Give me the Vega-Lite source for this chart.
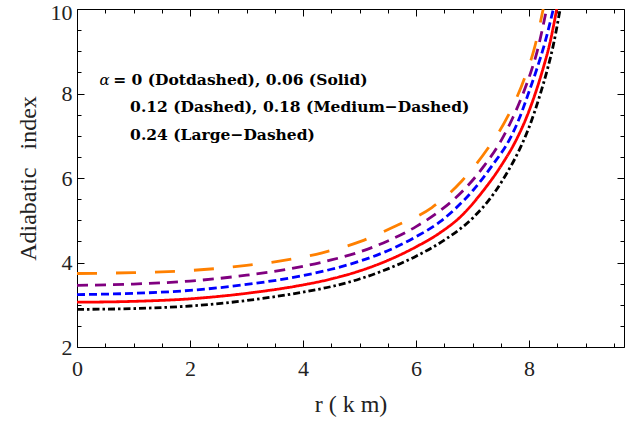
{
  "$schema": "https://vega.github.io/schema/vega-lite/v6.json",
  "width": 547,
  "height": 338,
  "autosize": {"type": "none"},
  "padding": {"left": 77, "top": 9, "right": 11, "bottom": 81},
  "background": "white",
  "config": {"view": {"stroke": null}},
  "datasets": {
    "curves": [
      {"s": "0", "r": 0, "v": 2.89}, {"s": "0", "r": 1, "v": 2.91}, {"s": "0", "r": 2, "v": 2.97}, {"s": "0", "r": 3, "v": 3.10}, {"s": "0", "r": 4, "v": 3.30}, {"s": "0", "r": 4.5, "v": 3.43}, {"s": "0", "r": 5, "v": 3.61}, {"s": "0", "r": 5.5, "v": 3.85}, {"s": "0", "r": 6, "v": 4.15}, {"s": "0", "r": 6.5, "v": 4.53}, {"s": "0", "r": 7, "v": 5.05}, {"s": "0", "r": 7.37, "v": 5.62}, {"s": "0", "r": 7.6, "v": 6.1}, {"s": "0", "r": 7.84, "v": 6.7}, {"s": "0", "r": 8.0, "v": 7.2}, {"s": "0", "r": 8.19, "v": 7.95}, {"s": "0", "r": 8.32, "v": 8.55}, {"s": "0", "r": 8.43, "v": 9.15}, {"s": "0", "r": 8.55, "v": 10},
      {"s": "0.06", "r": 0, "v": 3.06}, {"s": "0.06", "r": 1, "v": 3.08}, {"s": "0.06", "r": 2, "v": 3.14}, {"s": "0.06", "r": 3, "v": 3.27}, {"s": "0.06", "r": 4, "v": 3.47}, {"s": "0.06", "r": 4.5, "v": 3.61}, {"s": "0.06", "r": 5, "v": 3.80}, {"s": "0.06", "r": 5.5, "v": 4.05}, {"s": "0.06", "r": 6, "v": 4.37}, {"s": "0.06", "r": 6.42, "v": 4.70}, {"s": "0.06", "r": 6.8, "v": 5.10}, {"s": "0.06", "r": 7.16, "v": 5.65}, {"s": "0.06", "r": 7.5, "v": 6.28}, {"s": "0.06", "r": 7.78, "v": 6.92}, {"s": "0.06", "r": 7.95, "v": 7.42}, {"s": "0.06", "r": 8.11, "v": 8.0}, {"s": "0.06", "r": 8.25, "v": 8.6}, {"s": "0.06", "r": 8.37, "v": 9.2}, {"s": "0.06", "r": 8.49, "v": 10},
      {"s": "0.12", "r": 0, "v": 3.24}, {"s": "0.12", "r": 1, "v": 3.27}, {"s": "0.12", "r": 2, "v": 3.34}, {"s": "0.12", "r": 3, "v": 3.48}, {"s": "0.12", "r": 4, "v": 3.69}, {"s": "0.12", "r": 4.5, "v": 3.84}, {"s": "0.12", "r": 5, "v": 4.03}, {"s": "0.12", "r": 5.5, "v": 4.28}, {"s": "0.12", "r": 6, "v": 4.61}, {"s": "0.12", "r": 6.42, "v": 4.96}, {"s": "0.12", "r": 6.7, "v": 5.28}, {"s": "0.12", "r": 7.01, "v": 5.71}, {"s": "0.12", "r": 7.35, "v": 6.3}, {"s": "0.12", "r": 7.67, "v": 6.95}, {"s": "0.12", "r": 7.83, "v": 7.42}, {"s": "0.12", "r": 7.98, "v": 7.97}, {"s": "0.12", "r": 8.13, "v": 8.55}, {"s": "0.12", "r": 8.28, "v": 9.2}, {"s": "0.12", "r": 8.43, "v": 10},
      {"s": "0.18", "r": 0, "v": 3.46}, {"s": "0.18", "r": 1, "v": 3.49}, {"s": "0.18", "r": 2, "v": 3.56}, {"s": "0.18", "r": 3, "v": 3.70}, {"s": "0.18", "r": 4, "v": 3.91}, {"s": "0.18", "r": 4.5, "v": 4.06}, {"s": "0.18", "r": 5, "v": 4.25}, {"s": "0.18", "r": 5.5, "v": 4.51}, {"s": "0.18", "r": 6, "v": 4.85}, {"s": "0.18", "r": 6.42, "v": 5.22}, {"s": "0.18", "r": 6.84, "v": 5.71}, {"s": "0.18", "r": 7.2, "v": 6.28}, {"s": "0.18", "r": 7.52, "v": 6.92}, {"s": "0.18", "r": 7.72, "v": 7.45}, {"s": "0.18", "r": 7.9, "v": 8.02}, {"s": "0.18", "r": 8.03, "v": 8.5}, {"s": "0.18", "r": 8.14, "v": 8.98}, {"s": "0.18", "r": 8.31, "v": 10},
      {"s": "0.24", "r": 0, "v": 3.74}, {"s": "0.24", "r": 1, "v": 3.76}, {"s": "0.24", "r": 2, "v": 3.81}, {"s": "0.24", "r": 3, "v": 3.93}, {"s": "0.24", "r": 3.66, "v": 4.05}, {"s": "0.24", "r": 4.34, "v": 4.23}, {"s": "0.24", "r": 5.02, "v": 4.5}, {"s": "0.24", "r": 5.63, "v": 4.86}, {"s": "0.24", "r": 6.28, "v": 5.3}, {"s": "0.24", "r": 6.81, "v": 5.93}, {"s": "0.24", "r": 7.26, "v": 6.68}, {"s": "0.24", "r": 7.62, "v": 7.45}, {"s": "0.24", "r": 7.93, "v": 8.4}, {"s": "0.24", "r": 8.09, "v": 9.05}, {"s": "0.24", "r": 8.25, "v": 10}
    ]
  },
  "layer": [
    {
      "data": {"name": "curves"},
      "mark": {"type": "line", "clip": true, "strokeWidth": 2.8, "interpolate": "monotone"},
      "encoding": {
        "x": {
          "field": "r", "type": "quantitative",
          "scale": {"domain": [0, 9.68], "nice": false, "zero": false},
          "axis": {
            "orient": "bottom",
            "values": [0, 0.5, 1, 1.5, 2, 2.5, 3, 3.5, 4, 4.5, 5, 5.5, 6, 6.5, 7, 7.5, 8, 8.5, 9, 9.5],
            "labelExpr": "datum.value % 2 === 0 ? format(datum.value, 'd') : ''",
            "tickSize": {"condition": {"test": "datum.value % 2 === 0", "value": -7}, "value": -4},
            "labelPadding": 18,
            "labelFont": "Liberation Serif", "labelFontSize": 22, "labelColor": "#222",
            "labelFlush": false,
            "grid": false, "domainColor": "#000", "tickColor": "#000",
            "title": "r ( k m)", "titleFont": "Liberation Serif", "titleFontSize": 24,
            "titleFontWeight": "normal", "titleColor": "#222", "titlePadding": 13
          }
        },
        "y": {
          "field": "v", "type": "quantitative",
          "scale": {"domain": [2, 10], "nice": false, "zero": false},
          "axis": {
            "orient": "left",
            "values": [2, 2.5, 3, 3.5, 4, 4.5, 5, 5.5, 6, 6.5, 7, 7.5, 8, 8.5, 9, 9.5, 10],
            "labelExpr": "datum.value % 2 === 0 ? format(datum.value, 'd') : ''",
            "tickSize": {"condition": {"test": "datum.value % 2 === 0", "value": -7}, "value": -4},
            "labelOffset": {"condition": {"test": "datum.value === 10", "value": 3}, "value": 0},
            "labelPadding": 12,
            "labelFont": "Liberation Serif", "labelFontSize": 22, "labelColor": "#222",
            "labelFlush": false,
            "grid": false, "domainColor": "#000", "tickColor": "#000",
            "title": "Adiabatic\u00a0\u00a0 index", "titleFont": "Liberation Serif", "titleFontSize": 24,
            "titleFontWeight": "normal", "titleColor": "#222", "titlePadding": 10
          }
        },
        "color": {
          "field": "s", "type": "nominal", "legend": null,
          "scale": {"domain": ["0", "0.06", "0.12", "0.18", "0.24"], "range": ["#000000", "#FF0000", "#0000FF", "#800080", "#FF8000"]}
        },
        "strokeDash": {
          "field": "s", "type": "nominal", "legend": null,
          "scale": {"domain": ["0", "0.06", "0.12", "0.18", "0.24"], "range": [[7, 3, 2.5, 3], [1, 0], [8, 4], [11, 7], [20, 19]]}
        }
      }
    },
    {
      "data": {"values": [{"t": "α"}]},
      "mark": {"type": "text", "font": "DejaVu Serif", "fontStyle": "italic", "fontSize": 15, "align": "left", "baseline": "middle", "color": "#000"},
      "encoding": {
        "x": {"datum": 0.4, "type": "quantitative", "axis": {
            "orient": "top", "title": null, "labels": false, "grid": false,
            "values": [0, 0.5, 1, 1.5, 2, 2.5, 3, 3.5, 4, 4.5, 5, 5.5, 6, 6.5, 7, 7.5, 8, 8.5, 9, 9.5],
            "tickSize": {"condition": {"test": "datum.value % 2 === 0", "value": -7}, "value": -4},
            "domainColor": "#000", "tickColor": "#000"}},
        "y": {"datum": 8.32, "type": "quantitative", "axis": {
            "orient": "right", "title": null, "labels": false, "grid": false,
            "values": [2, 2.5, 3, 3.5, 4, 4.5, 5, 5.5, 6, 6.5, 7, 7.5, 8, 8.5, 9, 9.5, 10],
            "tickSize": {"condition": {"test": "datum.value % 2 === 0", "value": -7}, "value": -4},
            "domainColor": "#000", "tickColor": "#000"}},
        "text": {"field": "t"}
      }
    },
    {
      "data": {"values": [{"t": "= 0 (Dotdashed), 0.06 (Solid)"}]},
      "mark": {"type": "text", "font": "DejaVu Serif", "fontWeight": "bold", "fontSize": 15.5, "align": "left", "baseline": "middle", "color": "#000"},
      "encoding": {
        "x": {"datum": 0.64, "type": "quantitative", "axis": null},
        "y": {"datum": 8.32, "type": "quantitative", "axis": null},
        "text": {"field": "t"}
      }
    },
    {
      "data": {"values": [{"t": "0.12 (Dashed), 0.18 (Medium−Dashed)"}]},
      "mark": {"type": "text", "font": "DejaVu Serif", "fontWeight": "bold", "fontSize": 15.5, "align": "left", "baseline": "middle", "color": "#000"},
      "encoding": {
        "x": {"datum": 0.94, "type": "quantitative", "axis": null},
        "y": {"datum": 7.68, "type": "quantitative", "axis": null},
        "text": {"field": "t"}
      }
    },
    {
      "data": {"values": [{"t": "0.24 (Large−Dashed)"}]},
      "mark": {"type": "text", "font": "DejaVu Serif", "fontWeight": "bold", "fontSize": 15.5, "align": "left", "baseline": "middle", "color": "#000"},
      "encoding": {
        "x": {"datum": 0.94, "type": "quantitative", "axis": null},
        "y": {"datum": 7.02, "type": "quantitative", "axis": null},
        "text": {"field": "t"}
      }
    }
  ],
  "resolve": {"axis": {"x": "independent", "y": "independent"}}
}
